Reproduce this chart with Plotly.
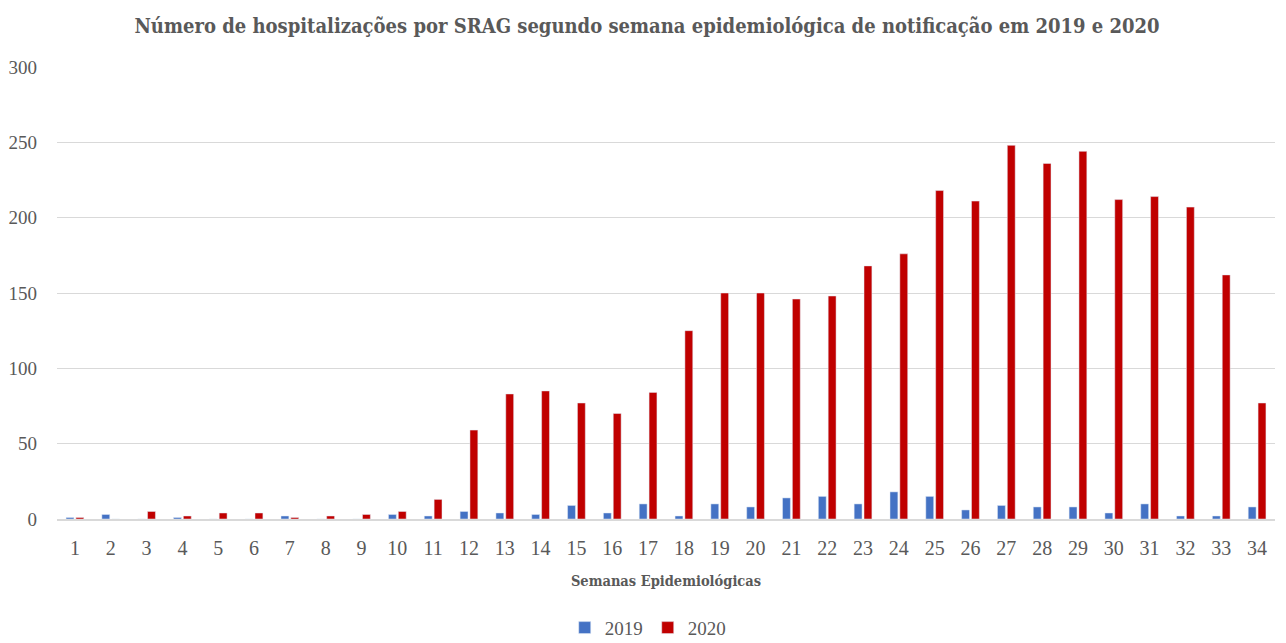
import plotly.graph_objects as go

semanas = [str(i) for i in range(1, 35)]
v2019 = [1, 3, 0, 1, 0, 0, 2, 0, 0, 3, 2, 5, 4, 3, 9, 4, 10, 2, 10, 8, 14, 15, 10, 18, 15, 6, 9, 8, 8, 4, 10, 2, 2, 8]
v2020 = [1, 0, 5, 2, 4, 4, 1, 2, 3, 5, 13, 59, 83, 85, 77, 70, 84, 125, 150, 150, 146, 148, 168, 176, 218, 211, 248, 236, 244, 212, 214, 207, 162, 77]

title_font = "DejaVu Serif Condensed, Liberation Serif, serif"
tick_font = "Liberation Serif, DejaVu Serif, serif"
gray = "#595959"

fig = go.Figure()
fig.add_trace(go.Bar(x=semanas, y=v2019, name="2019", marker=dict(color="#4472C4")))
fig.add_trace(go.Bar(x=semanas, y=v2020, name="2020", marker=dict(color="#C00000")))

fig.update_layout(
    width=1278, height=635,
    margin=dict(l=49, r=11, t=59, b=124, autoexpand=False),
    paper_bgcolor="white", plot_bgcolor="white",
    barmode="group", bargap=0.45, bargroupgap=0.2,
    font=dict(family=tick_font, color=gray, size=20),
    title=dict(
        text="<b>Número de hospitalizações por SRAG segundo semana epidemiológica de notificação em 2019 e 2020</b>",
        x=0.5, xanchor="center", y=0.9717, yanchor="middle",
        font=dict(family=title_font, size=20, color=gray),
    ),
    xaxis=dict(
        automargin=False,
        showline=True, linecolor="#D9D9D9", linewidth=2,
        ticks="", tickfont=dict(size=20, color=gray), ticklabelstandoff=10,
        title=dict(text="<b>Semanas Epidemiológicas</b>",
                   font=dict(family=title_font, size=14.5, color=gray), standoff=18),
    ),
    yaxis=dict(
        automargin=False,
        range=[0, 300], dtick=50, showgrid=True, gridcolor="#D9D9D9", gridwidth=1,
        zeroline=False, ticks="", tickfont=dict(size=19, color=gray),
        ticklabelstandoff=19,
    ),
    legend=dict(orientation="h", x=0.485, xanchor="center",
                yref="container", y=0.024, yanchor="middle",
                font=dict(size=19, color=gray), itemwidth=30, traceorder="normal"),
)

fig.write_html("out.html")
